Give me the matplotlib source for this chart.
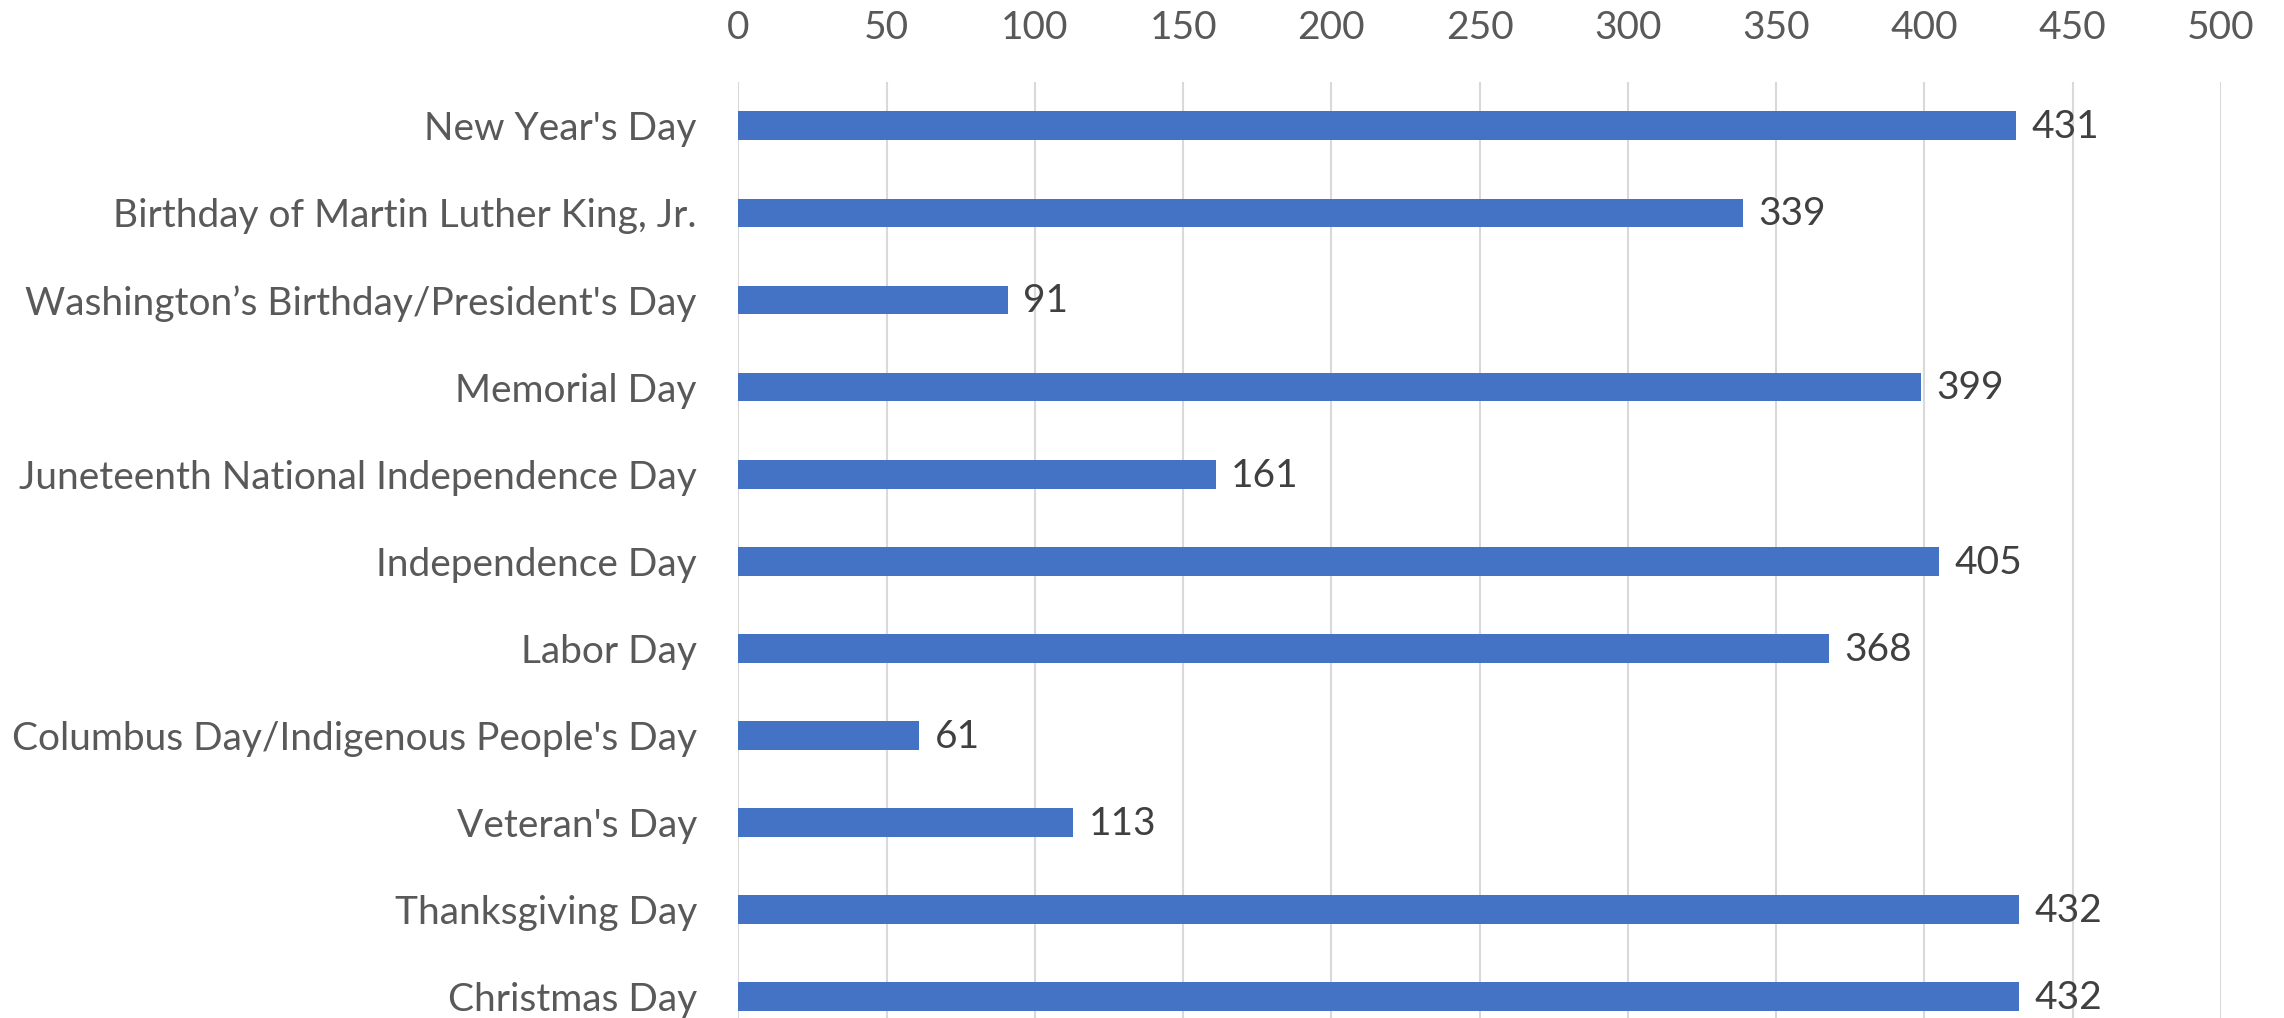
import matplotlib.pyplot as plt
import numpy as np

plt.rcParams['font.family'] = ['Lato', 'DejaVu Sans']

# holidays and counts
holidays = ["New Year's Day", "Birthday of Martin Luther King, Jr.",
            "Washington\u2019s Birthday/President's Day", "Memorial Day",
            "Juneteenth National Independence Day", "Independence Day",
            "Labor Day", "Columbus Day/Indigenous People's Day",
            "Veteran's Day", "Thanksgiving Day", "Christmas Day"]
counts = [431, 339, 91, 399, 161, 405, 368, 61, 113, 432, 432]
ticks = [0, 50, 100, 150, 200, 250, 300, 350, 400, 450, 500]

fig = plt.figure(figsize=(22.84, 10.18), dpi=100)
ax = fig.add_axes([0.3233, -0.0218, 0.649, 0.941])

y = np.arange(len(holidays))
ax.barh(y, counts, height=0.33, color='#4472C4', zorder=3)

for yi, v in zip(y, counts):
    ax.annotate(str(v), (v, yi), xytext=(11, -1), textcoords='offset points',
                va='center', ha='left', fontsize=28, color='#404040')

ax.set_xlim(0, 500)
ax.set_ylim(len(holidays) - 0.5, -0.5)
ax.set_xticks(ticks)
ax.set_yticks(y)
ax.set_yticklabels(holidays, fontsize=28, color='#595959')
ax.xaxis.tick_top()
ax.tick_params(axis='x', length=0, pad=26, labelsize=28, labelcolor='#595959')
ax.tick_params(axis='y', length=0, pad=30)
ax.grid(axis='x', color='#D9D9D9', linewidth=1.5, zorder=0)
for s in ax.spines.values():
    s.set_visible(False)

fig.savefig('out.png', dpi=100)
